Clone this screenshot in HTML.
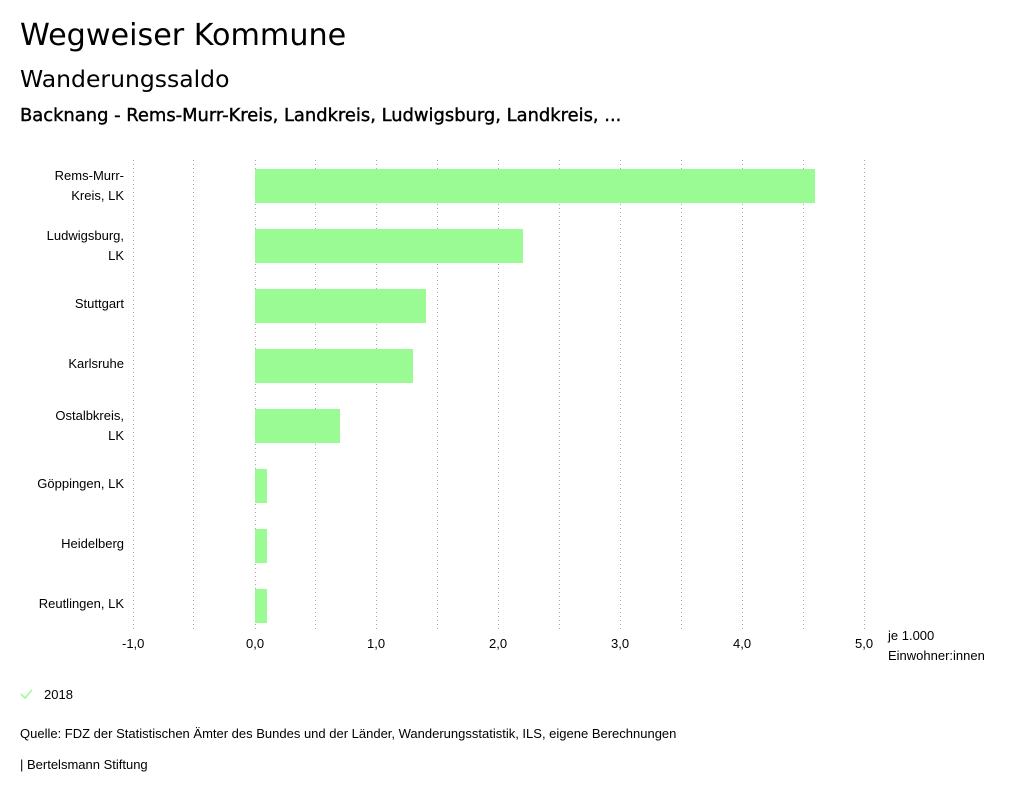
<!DOCTYPE html>
<html><head><meta charset="utf-8"><style>
body{margin:0;width:1024px;height:797px;background:#fff;position:relative;font-family:"Liberation Sans",sans-serif;color:#000;overflow:hidden}
.t{position:absolute;white-space:nowrap}
.n{font-family:"Liberation Sans Narrow","Liberation Sans",sans-serif;font-size:13px}
</style></head><body>
<div class="t" style="left:20px;top:18px;font-size:30.2px;font-family:'DejaVu Sans',sans-serif">Wegweiser Kommune</div>
<div class="t" style="left:20px;top:65px;font-size:23.5px;font-family:'DejaVu Sans',sans-serif">Wanderungssaldo</div>
<div class="t" style="left:20px;top:105px;font-size:17.9px;font-family:'DejaVu Sans',sans-serif;-webkit-text-stroke:0.4px #000">Backnang - Rems-Murr-Kreis, Landkreis, Ludwigsburg, Landkreis, ...</div>
<svg width="1024" height="797" style="position:absolute;left:0;top:0">
<g stroke="#aaa" stroke-width="1" stroke-dasharray="1,3">
<line x1="133.5" y1="160" x2="133.5" y2="630"/><line x1="193.5" y1="160" x2="193.5" y2="630"/>
<line x1="255.5" y1="160" x2="255.5" y2="630"/><line x1="315.5" y1="160" x2="315.5" y2="630"/>
<line x1="376.5" y1="160" x2="376.5" y2="630"/><line x1="437.5" y1="160" x2="437.5" y2="630"/>
<line x1="498.5" y1="160" x2="498.5" y2="630"/><line x1="559.5" y1="160" x2="559.5" y2="630"/>
<line x1="620.5" y1="160" x2="620.5" y2="630"/><line x1="681.5" y1="160" x2="681.5" y2="630"/>
<line x1="742.5" y1="160" x2="742.5" y2="630"/><line x1="803.5" y1="160" x2="803.5" y2="630"/>
<line x1="864.5" y1="160" x2="864.5" y2="630"/>
</g>
<g fill="#9afa94">
<rect x="255" y="169" width="560" height="34"/>
<rect x="255" y="229" width="268" height="34"/>
<rect x="255" y="289" width="171" height="34"/>
<rect x="255" y="349" width="158" height="34"/>
<rect x="255" y="409" width="85" height="34"/>
<rect x="255" y="469" width="12" height="34"/>
<rect x="255" y="529" width="12" height="34"/>
<rect x="255" y="589" width="12" height="34"/>
</g>
<polyline points="21,694 25,698 32,690" fill="none" stroke="#9afa94" stroke-width="1.5"/>
</svg>
<div class="n">
<div class="t" style="right:900px;top:166px;text-align:right;line-height:20px">Rems-Murr-<br>Kreis, LK</div>
<div class="t" style="right:900px;top:226px;text-align:right;line-height:20px">Ludwigsburg,<br>LK</div>
<div class="t" style="right:900px;top:296px">Stuttgart</div>
<div class="t" style="right:900px;top:356px">Karlsruhe</div>
<div class="t" style="right:900px;top:406px;text-align:right;line-height:20px">Ostalbkreis,<br>LK</div>
<div class="t" style="right:900px;top:476px">Göppingen, LK</div>
<div class="t" style="right:900px;top:536px">Heidelberg</div>
<div class="t" style="right:900px;top:596px">Reutlingen, LK</div>
<div class="t" style="left:122px;top:636px">-1,0</div>
<div class="t" style="left:246px;top:636px">0,0</div>
<div class="t" style="left:367px;top:636px">1,0</div>
<div class="t" style="left:489px;top:636px">2,0</div>
<div class="t" style="left:611px;top:636px">3,0</div>
<div class="t" style="left:733px;top:636px">4,0</div>
<div class="t" style="left:855px;top:636px">5,0</div>
<div class="t" style="left:888px;top:626px;line-height:20px">je 1.000<br>Einwohner:innen</div>
<div class="t" style="left:44px;top:687px">2018</div>
<div class="t" style="left:20px;top:726px">Quelle: FDZ der Statistischen Ämter des Bundes und der Länder, Wanderungsstatistik, ILS, eigene Berechnungen</div>
<div class="t" style="left:20px;top:757px">| Bertelsmann Stiftung</div>
</div>
</body></html>
